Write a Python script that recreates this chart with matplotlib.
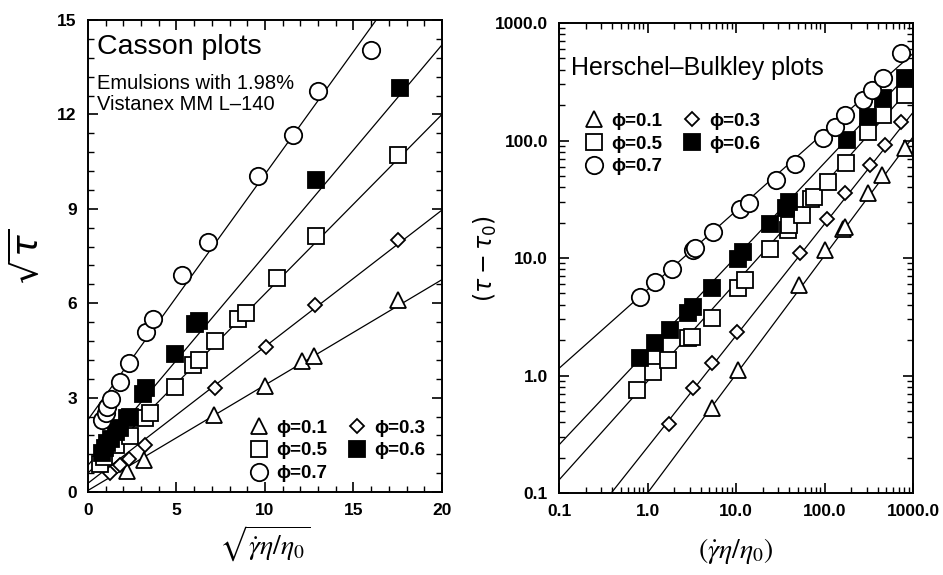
"""Casson and Herschel-Bulkley plots for emulsions"""

import numpy as np
import matplotlib
matplotlib.use("Agg")
import matplotlib.pyplot as plt
from matplotlib.ticker import MultipleLocator, LogLocator, FixedLocator, NullFormatter

plt.rcParams["font.family"] = ["Liberation Sans", "DejaVu Sans"]
plt.rcParams["mathtext.fontset"] = "dejavusans"

PHI_LABELS = ["ϕ=0.1", "ϕ=0.3", "ϕ=0.5", "ϕ=0.6", "ϕ=0.7"]

# ---- Casson plot: sqrt(gamma*eta/eta0) vs sqrt(tau) ----
cas_x_01 = [2.2, 3.15, 7.1, 10.0, 12.1, 12.75, 17.5]
cas_y_01 = [0.66, 1.02, 2.45, 3.37, 4.17, 4.33, 6.1]
cas_x_03 = [1.25, 1.8, 2.3, 3.2, 7.2, 10.05, 12.8, 17.5]
cas_y_03 = [0.6, 0.86, 1.05, 1.5, 3.3, 4.6, 5.95, 8.0]
cas_x_05 = [0.7, 0.9, 1.6, 2.4, 3.2, 3.5, 4.9, 5.95, 6.3, 7.2, 8.45, 8.9, 10.7, 12.9, 17.5]
cas_y_05 = [0.88, 1.1, 1.5, 1.78, 2.35, 2.5, 3.35, 4.05, 4.2, 4.8, 5.5, 5.7, 6.8, 8.15, 10.7]
cas_x_06 = [0.8, 0.95, 1.1, 1.3, 1.6, 1.8, 2.2, 2.4, 3.1, 3.3, 4.9, 6.05, 6.3, 12.9, 17.6]
cas_y_06 = [1.25, 1.4, 1.55, 1.7, 1.9, 2.05, 2.35, 2.4, 3.1, 3.3, 4.4, 5.35, 5.45, 9.9, 12.85]
cas_x_07 = [0.8, 1.0, 1.1, 1.3, 1.8, 2.3, 3.3, 3.7, 5.3, 6.8, 9.6, 11.6, 13.0, 16.0]
cas_y_07 = [2.3, 2.5, 2.7, 2.95, 3.5, 4.1, 5.1, 5.5, 6.9, 7.95, 10.05, 11.35, 12.75, 14.05]
# fitted lines sqrt(tau) = a + b*x
cas_a = [0.05, 0.28, 0.6, 0.85, 2.3]
cas_b = [0.335, 0.434, 0.57, 0.668, 0.78]

# ---- Herschel-Bulkley plot: (gamma*eta/eta0) vs (tau - tau0) ----
hb_x_01 = [5.3, 10.6, 51.9, 101, 160, 171, 313, 443, 813]
hb_y_01 = [0.53, 1.11, 5.9, 11.6, 17.5, 18.5, 35.5, 50.8, 85.9]
hb_x_03 = [1.75, 3.24, 5.3, 10.2, 52.5, 106, 171, 327, 483, 740]
hb_y_03 = [0.39, 0.78, 1.27, 2.36, 11.1, 21.3, 35.5, 61.8, 91.6, 144]
hb_x_05 = [0.76, 1.16, 1.72, 2.9, 3.16, 5.3, 10.6, 12.6, 24.2, 39, 39.5, 55, 71, 77, 110, 175, 313, 462, 813]
hb_y_05 = [0.76, 1.08, 1.36, 2.1, 2.14, 3.1, 5.6, 6.5, 11.9, 17.3, 19.1, 23.2, 31.6, 33.3, 44.6, 64, 119, 165, 244]
hb_x_06 = [0.82, 1.22, 1.79, 2.9, 3.3, 5.3, 10.6, 12.1, 24.2, 36.3, 40, 178, 313, 462, 813]
hb_y_06 = [1.40, 1.88, 2.44, 3.38, 3.86, 5.6, 9.9, 11.2, 19.5, 26.5, 30.1, 101, 160, 229, 338]
hb_x_07 = [0.82, 1.22, 1.87, 3.3, 3.4, 5.5, 11.0, 14.1, 28.3, 47, 97, 133, 171, 274, 341, 462, 731]
hb_y_07 = [4.7, 6.3, 8.0, 11.7, 12.1, 16.5, 26.2, 29.3, 46.4, 63, 104, 131, 165, 221, 269, 338, 552]
# fitted lines tau - tau0 = K * x^n
hb_K = [0.10, 0.245, 0.893, 1.62, 5.38]
hb_n = [1.01, 0.95, 0.84, 0.80, 0.67]

MARKERS = [
    dict(marker="^", ms=11, mfc="white", mec="black"),
    dict(marker="D", ms=7.5, mfc="white", mec="black"),
    dict(marker="s", ms=11.5, mfc="white", mec="black"),
    dict(marker="s", ms=11.5, mfc="black", mec="black"),
    dict(marker="o", ms=12.5, mfc="white", mec="black"),
]


def _style_axes(ax):
    for sp in ax.spines.values():
        sp.set_linewidth(1.4)
    ax.tick_params(which="both", direction="in", top=True, right=True,
                   labelsize=12.5, pad=8)
    ax.tick_params(which="major", length=7, width=1.2)
    ax.tick_params(which="minor", length=4, width=1.0)
    for lab in ax.get_xticklabels() + ax.get_yticklabels():
        lab.set_fontweight("bold")


def _legend(ax, handles, **kw):
    # row order: 0.1 0.3 / 0.5 0.6 / 0.7  (matplotlib fills columns first)
    order = [0, 2, 4, 1, 3]
    leg = ax.legend([handles[i] for i in order], [PHI_LABELS[i] for i in order],
                    ncol=2, frameon=False, handletextpad=0.3, columnspacing=1.0,
                    labelspacing=0.3, handlelength=1.2,
                    prop=dict(size=13.5, weight="bold"), **kw)
    return leg


fig = plt.figure(figsize=(9.43, 5.75), dpi=100)
ax1 = fig.add_axes([0.0933, 0.1443, 0.3754, 0.8209])
ax2 = fig.add_axes([0.5928, 0.1426, 0.3754, 0.8174])

# ===== left: Casson =====
cas_xs = [cas_x_01, cas_x_03, cas_x_05, cas_x_06, cas_x_07]
cas_ys = [cas_y_01, cas_y_03, cas_y_05, cas_y_06, cas_y_07]
xl = np.array([0.0, 20.0])
handles = []
for xs, ys, a, b, mk in zip(cas_xs, cas_ys, cas_a, cas_b, MARKERS):
    ax1.plot(xl, a + b * xl, color="black", lw=0.9, zorder=2)
    h, = ax1.plot(xs, ys, linestyle="none", mew=1.3, zorder=3, **mk)
    handles.append(h)

ax1.set_xlim(0, 20)
ax1.set_ylim(0, 15)
ax1.xaxis.set_major_locator(MultipleLocator(5))
ax1.xaxis.set_minor_locator(MultipleLocator(1))
ax1.yaxis.set_major_locator(MultipleLocator(3))
ax1.yaxis.set_minor_locator(MultipleLocator(0.6))
_style_axes(ax1)
ax1.set_xlabel(r"$\sqrt{\dot{\gamma}\eta/\eta_0}$", fontsize=20, labelpad=4,
               math_fontfamily="stix")
ax1.set_ylabel(r"$\sqrt{\tau}$", fontsize=26, labelpad=8)
ax1.text(0.025, 0.97, "Casson plots", transform=ax1.transAxes,
         fontsize=20.5, va="top", ha="left")
ax1.text(0.025, 0.885, "Emulsions with 1.98%\nVistanex MM L\u2013140",
         transform=ax1.transAxes, fontsize=14.5, va="top", ha="left",
         linespacing=1.1)
_legend(ax1, handles, loc="lower right", bbox_to_anchor=(1.0, -0.015))

# ===== right: Herschel-Bulkley =====
hb_xs = [hb_x_01, hb_x_03, hb_x_05, hb_x_06, hb_x_07]
hb_ys = [hb_y_01, hb_y_03, hb_y_05, hb_y_06, hb_y_07]
xr = np.array([0.1, 1000.0])
handles = []
for xs, ys, K, n, mk in zip(hb_xs, hb_ys, hb_K, hb_n, MARKERS):
    ax2.plot(xr, K * xr ** n, color="black", lw=0.9, zorder=2)
    h, = ax2.plot(xs, ys, linestyle="none", mew=1.3, zorder=3, **mk)
    handles.append(h)

ax2.set_xscale("log")
ax2.set_yscale("log")
ax2.set_xlim(0.1, 1000)
ax2.set_ylim(0.1, 1000)
ticks = [0.1, 1.0, 10.0, 100.0, 1000.0]
tick_labels = ["0.1", "1.0", "10.0", "100.0", "1000.0"]
for axis in (ax2.xaxis, ax2.yaxis):
    axis.set_major_locator(FixedLocator(ticks))
    axis.set_minor_locator(LogLocator(base=10, subs=np.arange(2, 10)))
    axis.set_minor_formatter(NullFormatter())
ax2.set_xticklabels(tick_labels)
ax2.set_yticklabels(tick_labels)
_style_axes(ax2)
ax2.set_xlabel(r"$(\dot{\gamma}\eta/\eta_0)$", fontsize=20, labelpad=12,
               math_fontfamily="stix")
ax2.set_ylabel(r"$(\tau-\tau_0)$", fontsize=17, labelpad=-3)
ax2.text(0.035, 0.93, "Herschel\u2013Bulkley plots", transform=ax2.transAxes,
         fontsize=18, va="top", ha="left")
_legend(ax2, handles, loc="upper left", bbox_to_anchor=(0.02, 0.845))

fig.savefig("out.png", dpi=100)
plt.close(fig)
